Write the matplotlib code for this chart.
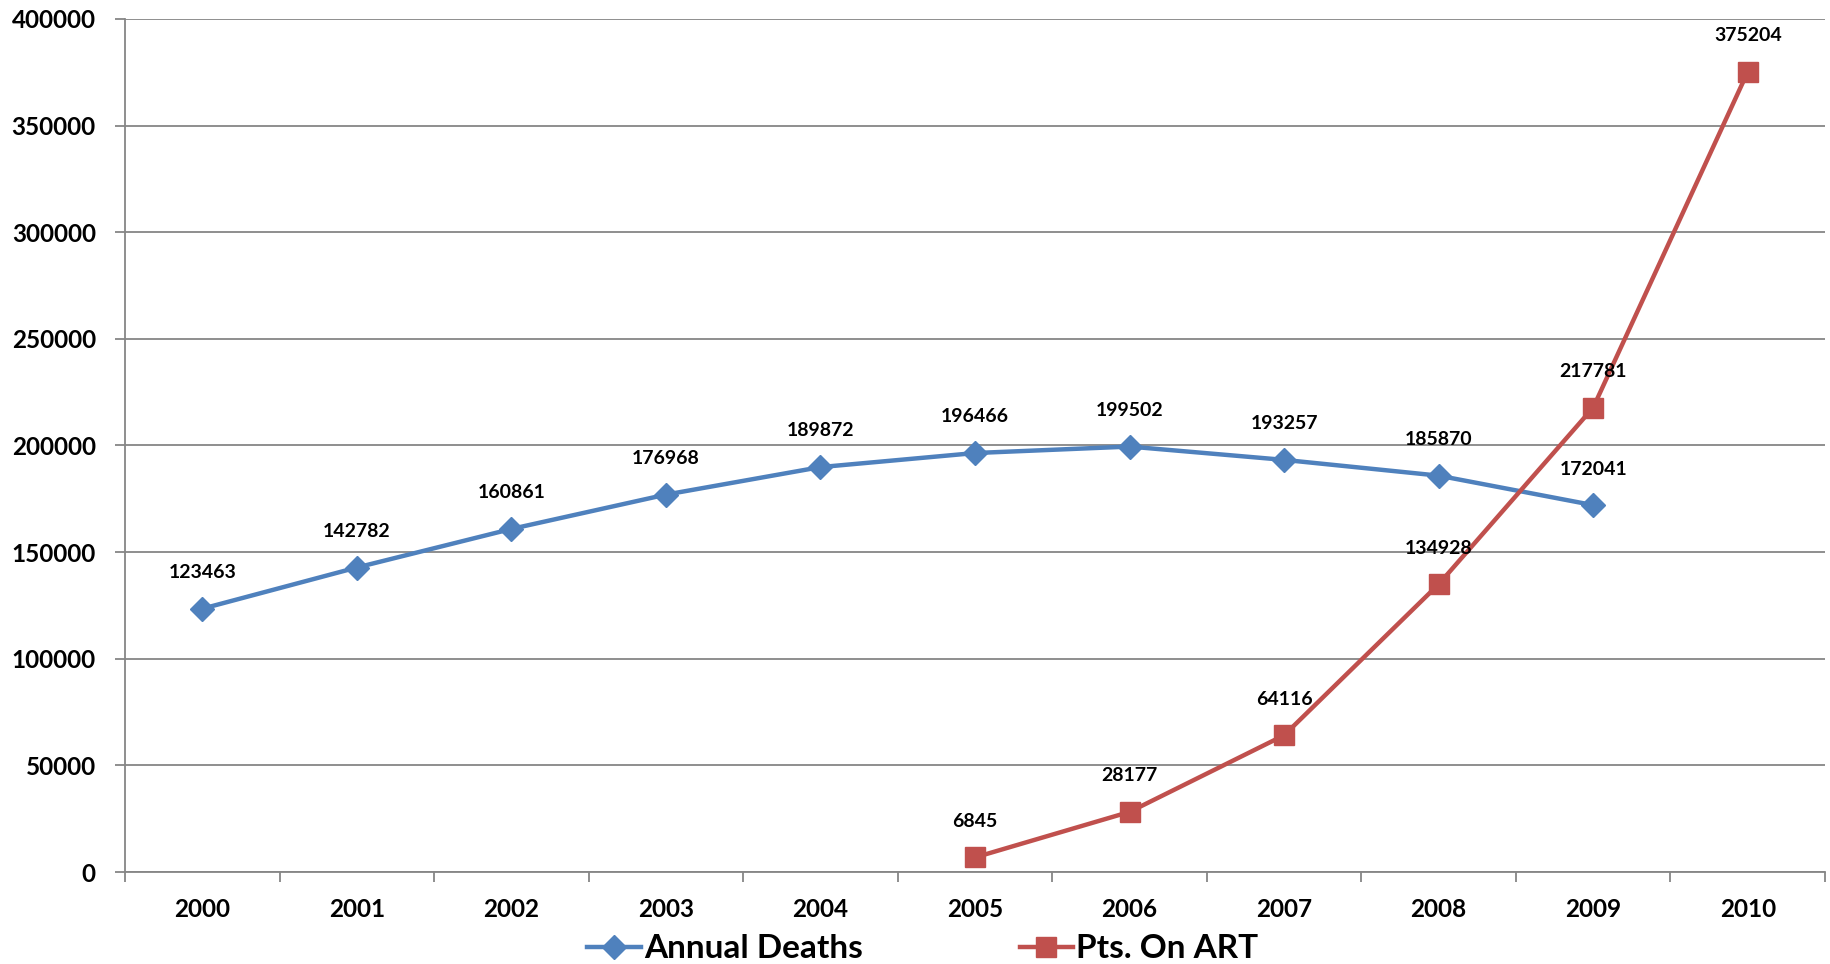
import matplotlib.pyplot as plt
import numpy as np

plt.rcParams['font.family'] = ['Lato', 'DejaVu Sans']

# yearly figures
years = ['2000', '2001', '2002', '2003', '2004', '2005', '2006', '2007', '2008', '2009', '2010']
annual_deaths = [123463, 142782, 160861, 176968, 189872, 196466, 199502, 193257, 185870, 172041, None]
pts_on_art = [None, None, None, None, None, 6845, 28177, 64116, 134928, 217781, 375204]

BLUE = '#4F81BD'
RED = '#C0504D'
GRID = '#868686'

fig = plt.figure(figsize=(18.31, 9.64), dpi=100)
ax = fig.add_axes([125 / 1831, 92 / 964, 1700 / 1831, 853 / 964])

x = np.arange(len(years))


def plot_series(values, color, marker, ms, label):
    xs = [i for i, v in enumerate(values) if v is not None]
    ys = [v for v in values if v is not None]
    ax.plot(xs, ys, color=color, lw=3.2, marker=marker, ms=ms,
            markerfacecolor=color, markeredgecolor=color, label=label, zorder=3)
    for xi, yi in zip(xs, ys):
        ax.annotate(f'{yi}', (xi, yi), xytext=(0, 26), textcoords='offset points',
                    ha='center', va='center', fontsize=14, fontweight='bold', color='black')


plot_series(annual_deaths, BLUE, 'D', 12, 'Annual Deaths')
plot_series(pts_on_art, RED, 's', 14, 'Pts. On ART')

ax.set_xlim(-0.5, len(years) - 0.5)
ax.set_ylim(0, 400000)
ax.set_yticks(np.arange(0, 400001, 50000))
ax.set_yticklabels([f'{v}' for v in range(0, 400001, 50000)], fontsize=17.5, fontweight='bold')

# category labels centred, tick marks between categories
ax.set_xticks(x)
ax.set_xticklabels(years, fontsize=17.5, fontweight='bold')
ax.set_xticks(np.arange(-0.5, len(years), 1), minor=True)
ax.tick_params(axis='x', which='major', length=0, pad=19)
ax.tick_params(axis='x', which='minor', length=7, width=1.3, color=GRID, direction='out')
ax.tick_params(axis='y', length=7, width=1.3, color=GRID, direction='out', pad=14)

ax.grid(axis='y', color=GRID, lw=1.3)
ax.set_axisbelow(True)
for side in ['top', 'right']:
    ax.spines[side].set_visible(False)
for side in ['left', 'bottom']:
    ax.spines[side].set_color(GRID)
    ax.spines[side].set_linewidth(1.3)

leg = fig.legend(loc='center', bbox_to_anchor=(923 / 1831, 15 / 964), ncol=2, frameon=False,
                 prop={'size': 24, 'weight': 'bold'}, handlelength=1.6, handletextpad=0.1,
                 columnspacing=4.7, borderaxespad=0)

fig.savefig('out.png', dpi=100)
